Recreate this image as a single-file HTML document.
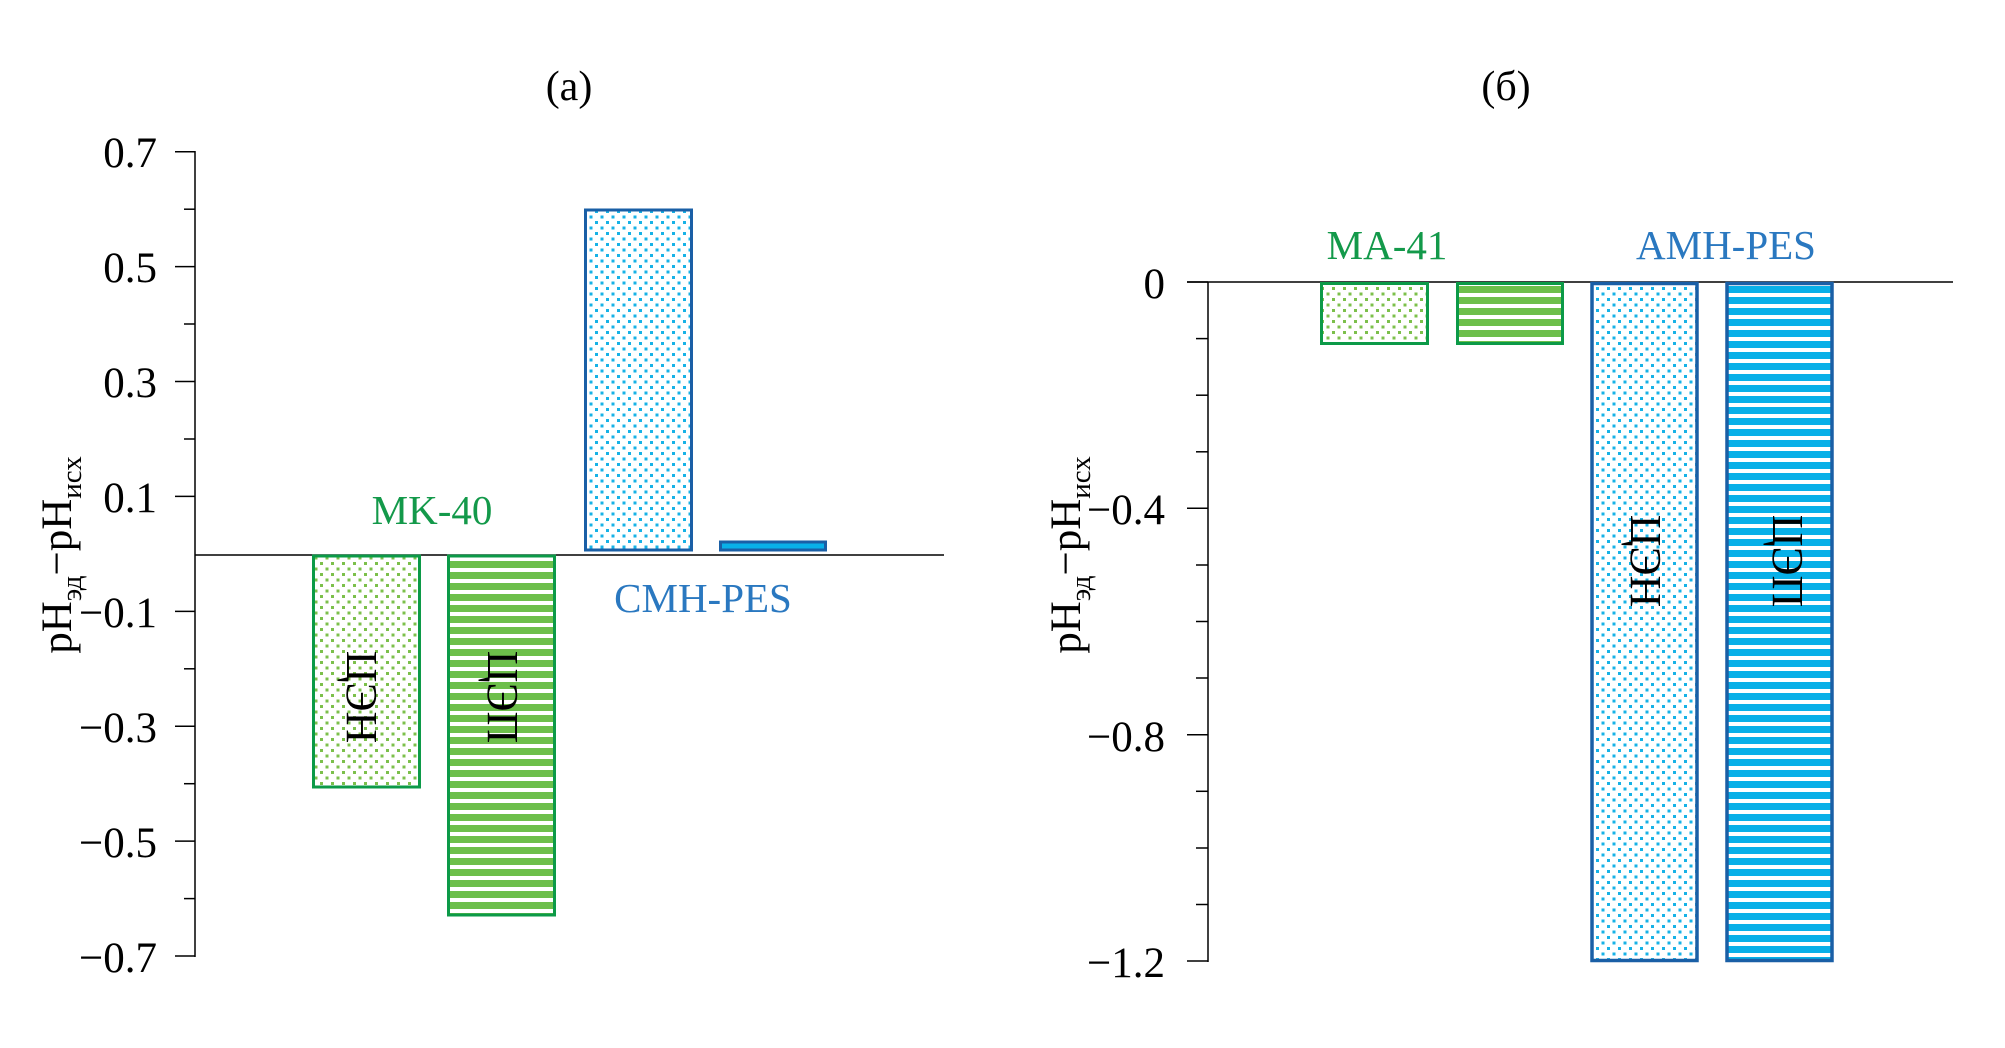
<!DOCTYPE html>
<html><head><meta charset="utf-8"><style>
html,body{margin:0;padding:0;background:#fff;}
svg{display:block;}
text{font-family:"Liberation Serif","DejaVu Serif",serif;}
</style></head><body>
<svg width="2005" height="1048" viewBox="0 0 2005 1048" xmlns="http://www.w3.org/2000/svg">
<defs>
<pattern id="gd" width="11" height="11" patternUnits="userSpaceOnUse">
<rect x="1" y="1" width="3" height="3" fill="#7cc04b"/><rect x="6.5" y="6.5" width="3" height="3" fill="#7cc04b"/></pattern>
<pattern id="bd" width="11" height="11" patternUnits="userSpaceOnUse">
<rect x="1" y="1" width="3" height="3" fill="#17b2e6"/><rect x="6.5" y="6.5" width="3" height="3" fill="#17b2e6"/></pattern>
<pattern id="gs" width="11" height="11" patternUnits="userSpaceOnUse">
<rect x="0" y="0" width="11" height="7" fill="#6dbf4b"/></pattern>
<pattern id="bs" width="11" height="11" patternUnits="userSpaceOnUse">
<rect x="0" y="0" width="11" height="7" fill="#08b0e8"/></pattern>
</defs>

<!-- Panel a -->
<text x="569" y="100" font-size="42" text-anchor="middle">(a)</text>
<line x1="195" y1="151" x2="195" y2="957" stroke="#000" stroke-width="1.5"/>
<g stroke="#000" stroke-width="1.5">
<line x1="175" y1="151.7" x2="195" y2="151.7"/><line x1="184" y1="209.2" x2="195" y2="209.2"/>
<line x1="175" y1="266.6" x2="195" y2="266.6"/><line x1="184" y1="324" x2="195" y2="324"/>
<line x1="175" y1="381.5" x2="195" y2="381.5"/><line x1="184" y1="439" x2="195" y2="439"/>
<line x1="175" y1="496.4" x2="195" y2="496.4"/>
<line x1="175" y1="611.4" x2="195" y2="611.4"/><line x1="184" y1="668.8" x2="195" y2="668.8"/>
<line x1="175" y1="726.2" x2="195" y2="726.2"/><line x1="184" y1="783.7" x2="195" y2="783.7"/>
<line x1="175" y1="841.1" x2="195" y2="841.1"/><line x1="184" y1="898.6" x2="195" y2="898.6"/>
<line x1="175" y1="956" x2="195" y2="956"/>
</g>
<line x1="195" y1="555" x2="944" y2="555" stroke="#000" stroke-width="1.5"/>
<g font-size="43" text-anchor="end">
<text x="157" y="167">0.7</text><text x="157" y="282">0.5</text><text x="157" y="397">0.3</text>
<text x="157" y="512">0.1</text><text x="157" y="627">−0.1</text><text x="157" y="742">−0.3</text>
<text x="157" y="857">−0.5</text><text x="157" y="972">−0.7</text>
</g>
<text transform="translate(71,555) rotate(-90)" font-size="43" text-anchor="middle">pH<tspan font-size="29" dy="10">эд</tspan><tspan dy="-10">−pH</tspan><tspan font-size="29" dy="10">исх</tspan></text>

<rect x="313.5" y="556" width="106" height="231" fill="url(#gd)" stroke="#0c9a48" stroke-width="3"/>
<rect x="448.5" y="556" width="106" height="359" fill="url(#gs)" stroke="#0c9a48" stroke-width="3"/>
<rect x="585.5" y="210" width="106" height="340" fill="url(#bd)" stroke="#1a5fa6" stroke-width="3"/>
<rect x="720.5" y="542" width="105" height="8" fill="#08b0e8" stroke="#1a5fa6" stroke-width="3"/>

<text x="432" y="524" font-size="41" fill="#13994a" text-anchor="middle">MK-40</text>
<text x="703" y="612" font-size="41" fill="#2a78c0" text-anchor="middle">CMH-PES</text>
<text transform="translate(362,697) rotate(90)" font-size="44" text-anchor="middle" dy="15">ЦЭН</text>
<text transform="translate(503,697) rotate(90)" font-size="44" text-anchor="middle" dy="15">ЦЭП</text>

<!-- Panel б -->
<text x="1506" y="100" font-size="42" text-anchor="middle">(б)</text>
<line x1="1208" y1="282" x2="1208" y2="962" stroke="#000" stroke-width="1.5"/>
<g stroke="#000" stroke-width="1.5">
<line x1="1187" y1="282" x2="1208" y2="282"/><line x1="1196" y1="338.6" x2="1208" y2="338.6"/>
<line x1="1196" y1="395.2" x2="1208" y2="395.2"/><line x1="1196" y1="451.8" x2="1208" y2="451.8"/>
<line x1="1187" y1="508.3" x2="1208" y2="508.3"/><line x1="1196" y1="565" x2="1208" y2="565"/>
<line x1="1196" y1="621.5" x2="1208" y2="621.5"/><line x1="1196" y1="678" x2="1208" y2="678"/>
<line x1="1187" y1="734.7" x2="1208" y2="734.7"/><line x1="1196" y1="791.3" x2="1208" y2="791.3"/>
<line x1="1196" y1="848" x2="1208" y2="848"/><line x1="1196" y1="904.5" x2="1208" y2="904.5"/>
<line x1="1187" y1="961" x2="1208" y2="961"/>
</g>
<line x1="1187" y1="282" x2="1953" y2="282" stroke="#000" stroke-width="1.5"/>
<g font-size="43" text-anchor="end">
<text x="1165" y="298">0</text><text x="1165" y="524">−0.4</text>
<text x="1165" y="751">−0.8</text><text x="1165" y="977">−1.2</text>
</g>
<text transform="translate(1080,555) rotate(-90)" font-size="43" text-anchor="middle">pH<tspan font-size="29" dy="10">эд</tspan><tspan dy="-10">−pH</tspan><tspan font-size="29" dy="10">исх</tspan></text>

<rect x="1321.5" y="283.5" width="106" height="60" fill="url(#gd)" stroke="#0c9a48" stroke-width="3"/>
<rect x="1457.5" y="283.5" width="105" height="60" fill="url(#gs)" stroke="#0c9a48" stroke-width="3"/>
<rect x="1592" y="283.5" width="105" height="677" fill="url(#bd)" stroke="#1a5fa6" stroke-width="3.5"/>
<rect x="1727" y="283.5" width="105" height="677" fill="url(#bs)" stroke="#1a5fa6" stroke-width="3.5"/>

<text x="1387" y="259" font-size="41" fill="#13994a" text-anchor="middle">MA-41</text>
<text x="1726" y="259" font-size="41" fill="#2a78c0" text-anchor="middle">AMH-PES</text>
<text transform="translate(1646,561) rotate(90)" font-size="44" text-anchor="middle" dy="15">ЦЭН</text>
<text transform="translate(1788,561) rotate(90)" font-size="44" text-anchor="middle" dy="15">ЦЭП</text>
</svg>
</body></html>
